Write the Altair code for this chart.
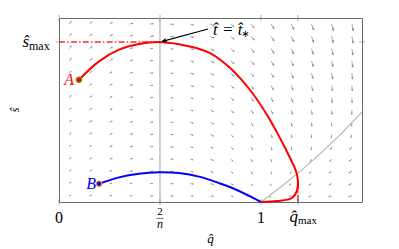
import altair as alt
import pandas as pd
import numpy as np

# ---------------- data ----------------
red_q = [0.099, 0.198, 0.297, 0.396, 0.495, 0.60, 0.68, 0.748, 0.847, 0.946, 1.03, 1.094, 1.144, 1.173, 1.183, 1.178, 1.153, 1.079, 1.0]
red_s = [0.764, 0.879, 0.952, 0.988, 1.0, 0.985, 0.962, 0.931, 0.838, 0.70, 0.544, 0.40, 0.275, 0.194, 0.131, 0.069, 0.025, 0.006, 0.0]

blue_q = [0.198, 0.297, 0.396, 0.495, 0.594, 0.698, 0.797, 0.861, 0.946, 1.0]
blue_s = [0.114, 0.154, 0.177, 0.186, 0.181, 0.157, 0.116, 0.086, 0.035, 0.0]

null_q = [1.0, 1.1, 1.2, 1.3, 1.4, 1.5]
null_s = [0.0, 0.095, 0.198, 0.31, 0.43, 0.5625]

pt_A = (0.099, 0.764)
pt_B = (0.198, 0.114)
q_star = 0.5      # 2/n
s_max = 1.0
q_max = 1.183

# annotation arrow (tail near text, head at the maximum)
ann_tail = (0.738, 1.081)
ann_head = (0.512, 1.004)

# vector field grid
grid_q = [0.05, 0.15, 0.25, 0.35, 0.45, 0.55, 0.65, 0.75, 0.85, 0.95, 1.05, 1.15, 1.25, 1.35, 1.45]
grid_s_top_down = [1.112, 1.035, 0.958, 0.882, 0.805, 0.728, 0.652, 0.575, 0.498, 0.422, 0.345, 0.268, 0.192, 0.115, 0.038]

# arrow directions (degrees, counter-clockwise from +q), rows from top to bottom
ang_rows = [
    [50, 40, 30, 18, 6, -6, -17, -28, -38, -48, -57, -64, -70, -75, -79],
    [50, 40, 30, 18, 6, -6, -17, -28, -38, -48, -57, -65, -71, -76, -80],
    [50, 40, 29, 17, 6, -6, -17, -28, -39, -49, -58, -66, -72, -77, -81],
    [49, 39, 28, 17, 6, -6, -17, -28, -40, -50, -59, -67, -73, -78, -82],
    [48, 38, 27, 16, 5, -6, -17, -29, -41, -51, -60, -68, -75, -80, -84],
    [47, 37, 26, 15, 5, -6, -17, -29, -42, -52, -62, -70, -77, -82, -86],
    [46, 36, 25, 15, 5, -6, -17, -30, -43, -54, -64, -72, -79, -84, -88],
    [45, 35, 24, 14, 5, -5, -17, -30, -44, -56, -66, -75, -82, -87, -92],
    [44, 33, 23, 13, 4, -5, -16, -30, -45, -58, -69, -78, -85, -91, -95],
    [43, 32, 22, 12, 4, -5, -16, -29, -45, -60, -72, -81, -89, -97, -110],
    [42, 30, 20, 11, 4, -5, -15, -28, -44, -61, -75, -85, -96, -110, -125],
    [40, 28, 18, 10, 3, -4, -14, -26, -42, -61, -78, -92, -115, -130, -140],
    [38, 25, 16, 8, 3, -4, -12, -23, -38, -58, -82, -115, -135, -145, -150],
    [35, 21, 13, 7, 2, -3, -9, -17, -29, -50, -100, -140, -150, -155, -158],
    [30, 15, 8, 4, 1, -2, -5, -9, -15, -30, -130, -160, -165, -168, -170],
]
# arrow lengths (px), rows from top to bottom
len_rows = [
    [7, 7, 7, 7, 7, 7, 7, 8, 9, 10, 11, 12, 13, 14, 14],
    [7, 7, 7, 7, 7, 7, 7, 8, 9, 10, 11, 12, 13, 13, 14],
    [7, 7, 7, 7, 6, 6, 7, 8, 9, 10, 11, 12, 12, 13, 13],
    [7, 7, 7, 6, 6, 6, 7, 8, 9, 10, 11, 11, 12, 12, 13],
    [6, 6, 6, 6, 6, 6, 7, 8, 9, 9, 10, 11, 11, 12, 12],
    [6, 6, 6, 6, 6, 6, 7, 7, 8, 9, 10, 10, 11, 11, 11],
    [6, 6, 6, 6, 6, 6, 6, 7, 8, 9, 9, 10, 10, 10, 10],
    [6, 6, 6, 6, 6, 6, 6, 7, 8, 8, 9, 9, 9, 9, 9],
    [6, 6, 6, 6, 6, 6, 6, 7, 7, 8, 8, 8, 8, 8, 8],
    [5, 6, 6, 6, 6, 6, 6, 7, 7, 7, 7, 7, 7, 7, 7],
    [5, 5, 6, 6, 6, 6, 6, 6, 7, 7, 7, 7, 6, 6, 7],
    [5, 5, 6, 6, 6, 6, 6, 6, 6, 6, 6, 6, 6, 6, 7],
    [5, 5, 5, 6, 6, 6, 6, 6, 6, 6, 5, 5, 6, 6, 7],
    [5, 5, 5, 5, 6, 6, 6, 6, 6, 5, 4, 5, 6, 6, 7],
    [4, 5, 5, 5, 6, 6, 6, 6, 5, 5, 4, 5, 6, 6, 7],
]

# ---------------- layout ----------------
W, H = 303, 184
QD = [0.0, 1.5]
SD = [0.0, 1.15]
xs = alt.Scale(domain=QD, nice=False, zero=False)
ys = alt.Scale(domain=SD, nice=False, zero=False)
PXQ = W / (QD[1] - QD[0])
PXS = H / (SD[1] - SD[0])

SERIF = "Liberation Serif"
GRAYARR = "#8c8c8c"
FRAME = "#6a6a6a"


def X(f="q"):
    return alt.X(f"{f}:Q", scale=xs, axis=None)


def Y(f="s"):
    return alt.Y(f"{f}:Q", scale=ys, axis=None)


# vector field table
rows = []
for i, s in enumerate(grid_s_top_down):
    for j, q in enumerate(grid_q):
        a = ang_rows[i][j]
        L = len_rows[i][j]
        rows.append({"q": q, "s": s, "rot": (-a) % 360, "sz": L ** 2})
field = pd.DataFrame(rows)

arrow_path = "M0,0L0.72,0M1,0L0.68,-0.11L0.68,0.11Z"
quiver = alt.Chart(field).mark_point(
    shape=arrow_path, filled=True, fill=GRAYARR, stroke=GRAYARR,
    strokeWidth=0.7, opacity=1, clip=True
).encode(
    x=X(), y=Y(),
    angle=alt.Angle("rot:Q", scale=None),
    size=alt.Size("sz:Q", scale=None),
)

# guide lines
vline = alt.Chart(pd.DataFrame({"q": [q_star, q_star], "s": [SD[0], SD[1]]})).mark_line(
    color="#c4c4c4", strokeWidth=1.6
).encode(x=X(), y=Y())

nullc = alt.Chart(pd.DataFrame({"q": null_q, "s": null_s})).mark_line(
    color="#b5b5b5", strokeWidth=1.1, clip=True
).encode(x=X(), y=Y())

smax_line = alt.Chart(pd.DataFrame({"q": [0.0, q_star], "s": [s_max, s_max]})).mark_line(
    color="#ff2a2a", strokeWidth=1.5, strokeDash=[6, 2.2, 1.5, 2.2]
).encode(x=X(), y=Y())

qmax_line = alt.Chart(pd.DataFrame({"q": [q_max, q_max], "s": [0.13, 0.0]})).mark_line(
    color="#ff2a2a", strokeWidth=1.5, strokeDash=[8, 2, 1.5, 2]
).encode(x=X(), y=Y())

red = alt.Chart(pd.DataFrame({"q": red_q, "s": red_s, "o": list(range(len(red_q)))})).mark_line(
    color="#ff0000", strokeWidth=2, interpolate="catmull-rom"
).encode(x=X(), y=Y(), order="o:Q")

blue = alt.Chart(pd.DataFrame({"q": blue_q, "s": blue_s})).mark_line(
    color="#0000ff", strokeWidth=2, interpolate="catmull-rom"
).encode(x=X(), y=Y())

pA = alt.Chart(pd.DataFrame({"q": [pt_A[0]], "s": [pt_A[1]]})).mark_point(
    shape="circle", filled=True, fill="#ff0000", stroke="#7a8a00", strokeWidth=1.2, size=30, opacity=1
).encode(x=X(), y=Y())
pB = alt.Chart(pd.DataFrame({"q": [pt_B[0]], "s": [pt_B[1]]})).mark_point(
    shape="circle", filled=True, fill="#0000ff", stroke="#ff9a00", strokeWidth=1.2, size=30, opacity=1
).encode(x=X(), y=Y())

lblA = alt.Chart(pd.DataFrame({"q": [pt_A[0]], "s": [pt_A[1]], "t": ["A"]})).mark_text(
    font=SERIF, fontStyle="italic", fontSize=16, color="#ff0000", align="right", baseline="middle", dx=-5, dy=0
).encode(x=X(), y=Y(), text="t:N")
lblB = alt.Chart(pd.DataFrame({"q": [pt_B[0]], "s": [pt_B[1]], "t": ["B"]})).mark_text(
    font=SERIF, fontStyle="italic", fontSize=16, color="#0000ff", align="right", baseline="middle", dx=-3, dy=0
).encode(x=X(), y=Y(), text="t:N")

# annotation arrow
ann_df = pd.DataFrame({"q": [ann_tail[0], ann_head[0]], "s": [ann_tail[1], ann_head[1]]})
ann_line = alt.Chart(ann_df).mark_line(color="#000000", strokeWidth=1.1).encode(x=X(), y=Y())
dxp = (ann_head[0] - ann_tail[0]) * PXQ
dyp = -(ann_head[1] - ann_tail[1]) * PXS
head_rot = float(np.degrees(np.arctan2(dyp, dxp)) % 360)
ann_head_df = pd.DataFrame({"q": [ann_head[0]], "s": [ann_head[1]], "rot": [head_rot]})
ann_tip = alt.Chart(ann_head_df).mark_point(
    shape="M0,0L-1,-0.45M0,0L-1,0.45", filled=False, stroke="#000000", strokeWidth=1.1, size=64, opacity=1
).encode(x=X(), y=Y(), angle=alt.Angle("rot:Q", scale=None))

ann_txt = alt.Chart(pd.DataFrame({"q": [ann_tail[0]], "s": [ann_tail[1]], "t": ["t\u0302 = t\u0302"]})).mark_text(
    font=SERIF, fontStyle="italic", fontSize=17, color="#000000", align="left", baseline="middle", dx=5, dy=1
).encode(x=X(), y=Y(), text="t:N")
ann_sub = alt.Chart(pd.DataFrame({"q": [ann_tail[0]], "s": [ann_tail[1]], "t": ["\u2217"]})).mark_text(
    font="DejaVu Sans", fontSize=10, color="#000000", align="left", baseline="middle", dx=33, dy=5
).encode(x=X(), y=Y(), text="t:N")

# x tick labels
xl_df = pd.DataFrame({"q": [0.0, 1.0], "t": ["0", "1"]})
xlab = alt.Chart(xl_df).mark_text(font=SERIF, fontSize=16, color="#000000", baseline="middle").encode(
    x=X(), y=alt.value(200), text="t:N")
frac_top = alt.Chart(pd.DataFrame({"q": [q_star], "t": ["2"]})).mark_text(
    font=SERIF, fontSize=11, color="#000000", baseline="middle").encode(x=X(), y=alt.value(194), text="t:N")
frac_bot = alt.Chart(pd.DataFrame({"q": [q_star], "t": ["n"]})).mark_text(
    font=SERIF, fontStyle="italic", fontSize=12, color="#000000", baseline="middle").encode(x=X(), y=alt.value(206), text="t:N")
frac_bar = alt.Chart(pd.DataFrame({"q": [q_star]})).mark_tick(
    color="#000000", thickness=0.8, size=7, orient="horizontal").encode(x=X(), y=alt.value(200.5))
qmax_q = alt.Chart(pd.DataFrame({"q": [q_max], "t": ["q\u0302"]})).mark_text(
    font=SERIF, fontStyle="italic", fontSize=17, color="#000000", baseline="middle", align="right", dx=0).encode(
    x=X(), y=alt.value(199), text="t:N")
qmax_m = alt.Chart(pd.DataFrame({"q": [q_max], "t": ["max"]})).mark_text(
    font=SERIF, fontSize=11, color="#000000", baseline="middle", align="left", dx=0).encode(
    x=X(), y=alt.value(203), text="t:N")
xtitle = alt.Chart(pd.DataFrame({"q": [0.75], "t": ["q\u0302"]})).mark_text(
    font=SERIF, fontStyle="italic", fontSize=13, color="#000000", baseline="middle").encode(
    x=X(), y=alt.value(221), text="t:N")

# y labels
smax_s = alt.Chart(pd.DataFrame({"s": [s_max], "t": ["\u015d"]})).mark_text(
    font=SERIF, fontStyle="italic", fontSize=17, color="#000000", baseline="middle", align="right").encode(
    x=alt.value(-30), y=Y(), text="t:N")
smax_m = alt.Chart(pd.DataFrame({"s": [s_max], "t": ["max"]})).mark_text(
    font=SERIF, fontSize=12, color="#000000", baseline="middle", align="left", dy=4).encode(
    x=alt.value(-30), y=Y(), text="t:N")
ytitle = alt.Chart(pd.DataFrame({"s": [0.575], "t": ["\u015d"]})).mark_text(
    font=SERIF, fontStyle="italic", fontSize=12, color="#000000", baseline="middle", angle=270).encode(
    x=alt.value(-44), y=Y(), text="t:N")

# small inward ticks
tq = [0.0, q_star, 1.0, q_max]
tick_bot = alt.Chart(pd.DataFrame({"q": tq})).mark_tick(color=FRAME, thickness=0.8, size=6, orient="vertical").encode(
    x=X(), y=alt.value(H))
tick_top = alt.Chart(pd.DataFrame({"q": tq})).mark_tick(color=FRAME, thickness=0.8, size=6, orient="vertical").encode(
    x=X(), y=alt.value(0))
tick_l = alt.Chart(pd.DataFrame({"s": [s_max]})).mark_tick(color=FRAME, thickness=0.8, size=6, orient="horizontal").encode(
    x=alt.value(0), y=Y())
tick_r = alt.Chart(pd.DataFrame({"s": [s_max]})).mark_tick(color=FRAME, thickness=0.8, size=6, orient="horizontal").encode(
    x=alt.value(W), y=Y())

chart = alt.layer(
    quiver, vline, nullc, smax_line, qmax_line, red, blue, pA, pB, lblA, lblB,
    ann_line, ann_tip, ann_txt, ann_sub,
    xlab, frac_top, frac_bot, frac_bar, qmax_q, qmax_m, xtitle,
    smax_s, smax_m, ytitle, tick_bot, tick_top, tick_l, tick_r,
).properties(
    width=W, height=H,
    padding={"left": 51, "top": 10, "right": 29, "bottom": 45},
    autosize=alt.AutoSizeParams(type="none"),
).configure_view(stroke=FRAME, strokeWidth=1)

chart.save("out.html", embed_options={"renderer": "svg", "actions": False})
